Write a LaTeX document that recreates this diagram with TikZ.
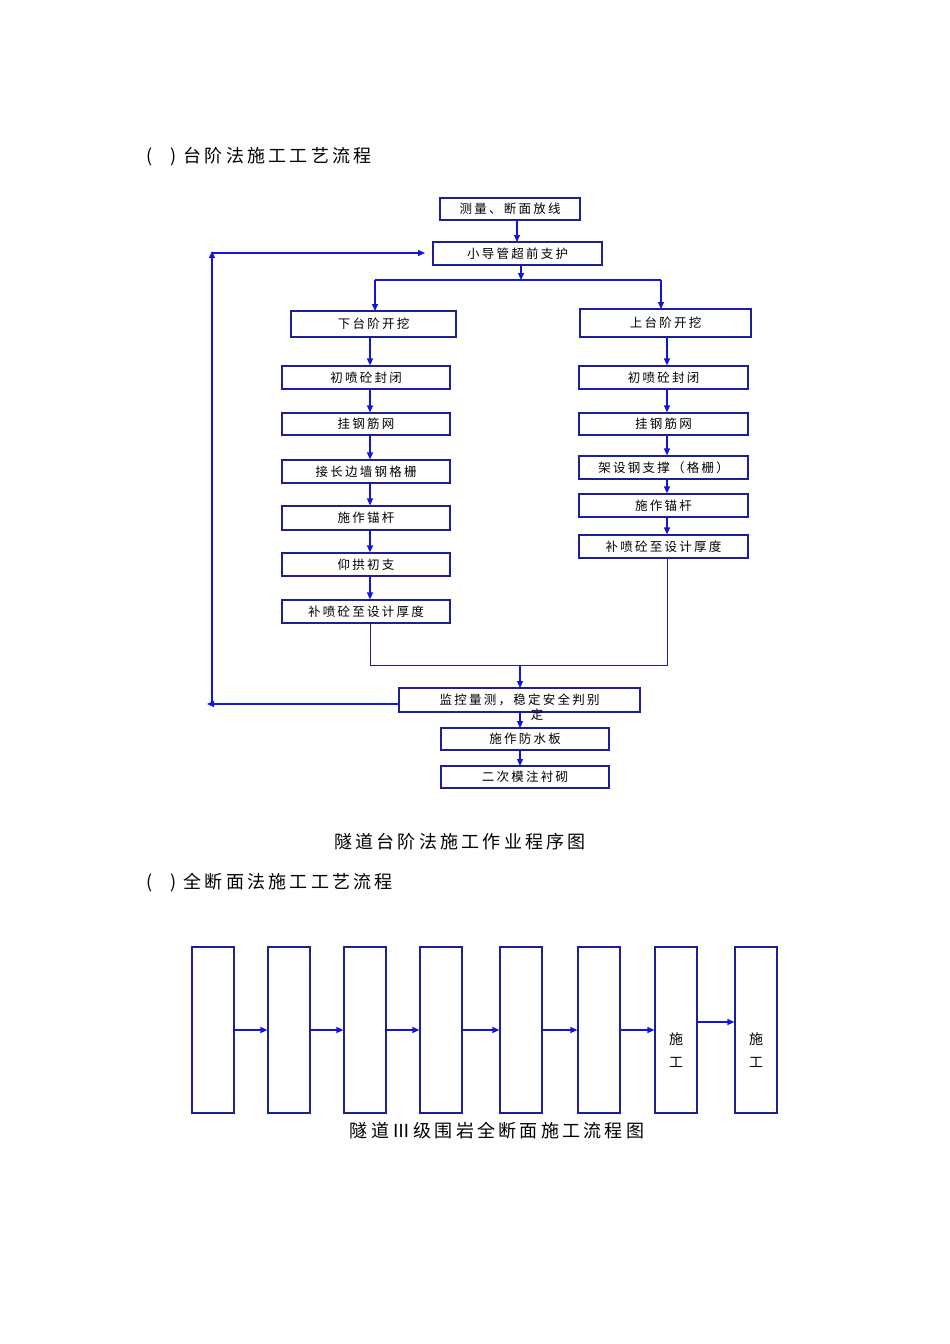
\documentclass[tikz,border=0pt]{standalone}
\usepackage{fontspec}
\setmainfont{Noto Sans CJK SC}[LetterSpace=18]
\usetikzlibrary{arrows.meta}
\definecolor{bl}{RGB}{20,20,220}
\definecolor{nv}{RGB}{30,30,150}
\begin{document}
\begin{tikzpicture}[x=1pt,y=-1pt,
 bx/.style={draw=nv,line width=1.2pt,inner sep=0pt,font=\fontsize{12.5}{14}\selectfont},
 ln/.style={draw=bl,line width=1.3pt},
 ar/.style={ln,-{Triangle[width=6pt,length=7pt]}},
 tt/.style={font=\fontsize{18}{20}\selectfont,anchor=west,inner sep=0pt}]
\useasboundingbox (0,0) rectangle (950,1344);
\newcommand\bxx[6]{\node[bx,minimum width=#4-#2,minimum height=#5-#3] (#1) at ({(#2+#4)/2},{(#3+#5)/2}) {#6};}
\node[tt] (t1) at (146,157) {(\quad) 台阶法施工工艺流程};
\bxx{a}{440}{198}{580}{220}{测量、断面放线}
\bxx{b}{433}{242}{602}{265}{小导管超前支护}
\bxx{l0}{291}{311}{456}{337}{下台阶开挖}
\bxx{r0}{580}{309}{751}{337}{上台阶开挖}
\bxx{l1}{282}{366}{450}{389}{初喷砼封闭}
\bxx{l2}{282}{413}{450}{435}{挂钢筋网}
\bxx{l3}{282}{460}{450}{483}{接长边墙钢格栅}
\bxx{l4}{282}{506}{450}{530}{施作锚杆}
\bxx{l5}{282}{553}{450}{576}{仰拱初支}
\bxx{l6}{282}{600}{450}{623}{补喷砼至设计厚度}
\bxx{r1}{579}{366}{748}{389}{初喷砼封闭}
\bxx{r2}{579}{413}{748}{435}{挂钢筋网}
\bxx{r3}{579}{456}{748}{479}{架设钢支撑（格栅）}
\bxx{r4}{579}{494}{748}{517}{施作锚杆}
\bxx{r5}{579}{535}{748}{558}{补喷砼至设计厚度}
\bxx{m}{399}{688}{640}{712}{监控量测，稳定安全判别}
\node[font=\fontsize{12.5}{14}\selectfont,inner sep=0pt] (ding) at (537,715) {定};
\bxx{w}{441}{728}{609}{750}{施作防水板}
\bxx{e}{441}{766}{609}{788}{二次模注衬砌}
\draw[ar] (517,220) -- (517,242);
\coordinate (j1) at (521,280);
\draw[ar] (521,265) -- (j1);
\draw[ln] (375,280) -- (661,280);
\draw[ar] (375,280) -- (375,311);
\draw[ar] (661,280) -- (661,309);
\foreach \p/\q in {l0/l1,l1/l2,l2/l3,l3/l4,l4/l5,l5/l6}{\draw[ar] (370,0 |- \p.south) -- (370,0 |- \q.north);}
\foreach \p/\q in {r0/r1,r1/r2,r2/r3,r3/r4,r4/r5}{\draw[ar] (667,0 |- \p.south) -- (667,0 |- \q.north);}
\draw[draw=nv,line width=0.8pt] (370,623) -- (370,665) -- (667,665) -- (667,558);
\draw[ar] (520,665) -- (520,688);
\draw[ar] (520,712) -- (520,728);
\draw[ar] (520,750) -- (520,766);
\draw[ar] (399,704) -- (207,704);
\coordinate (fb) at (212,704);
\draw[ar] (fb) -- (212,251);
\draw[ar] (212,253) -- (425,253);
\node[font=\fontsize{18}{20}\selectfont] (c1) at (460,842) {隧道台阶法施工作业程序图};
\node[tt] (t2) at (146,883) {(\quad) 全断面法施工工艺流程};
\foreach \x [count=\i] in {192,268,344,420,500,578,655,735}{
 \node[draw=nv,line width=1.2pt,minimum width=42pt,minimum height=166pt,inner sep=0pt] (k\i) at (\x+21,1030) {};}
\foreach \i [evaluate=\i as \j using int(\i+1)] in {1,...,6}{\draw[ar] (k\i.east) -- (k\j.west);}
\draw[ar] (k7.east |- 0,1022) -- (k8.west |- 0,1022);
\node[font=\fontsize{14}{23}\selectfont,align=center] (s7) at (676,1050) {施\\工};
\node[font=\fontsize{14}{23}\selectfont,align=center] (s8) at (756,1050) {施\\工};
\node[font=\fontsize{18}{20}\selectfont] (c2) at (497,1131) {隧道Ⅲ级围岩全断面施工流程图};
\end{tikzpicture}
\end{document}
